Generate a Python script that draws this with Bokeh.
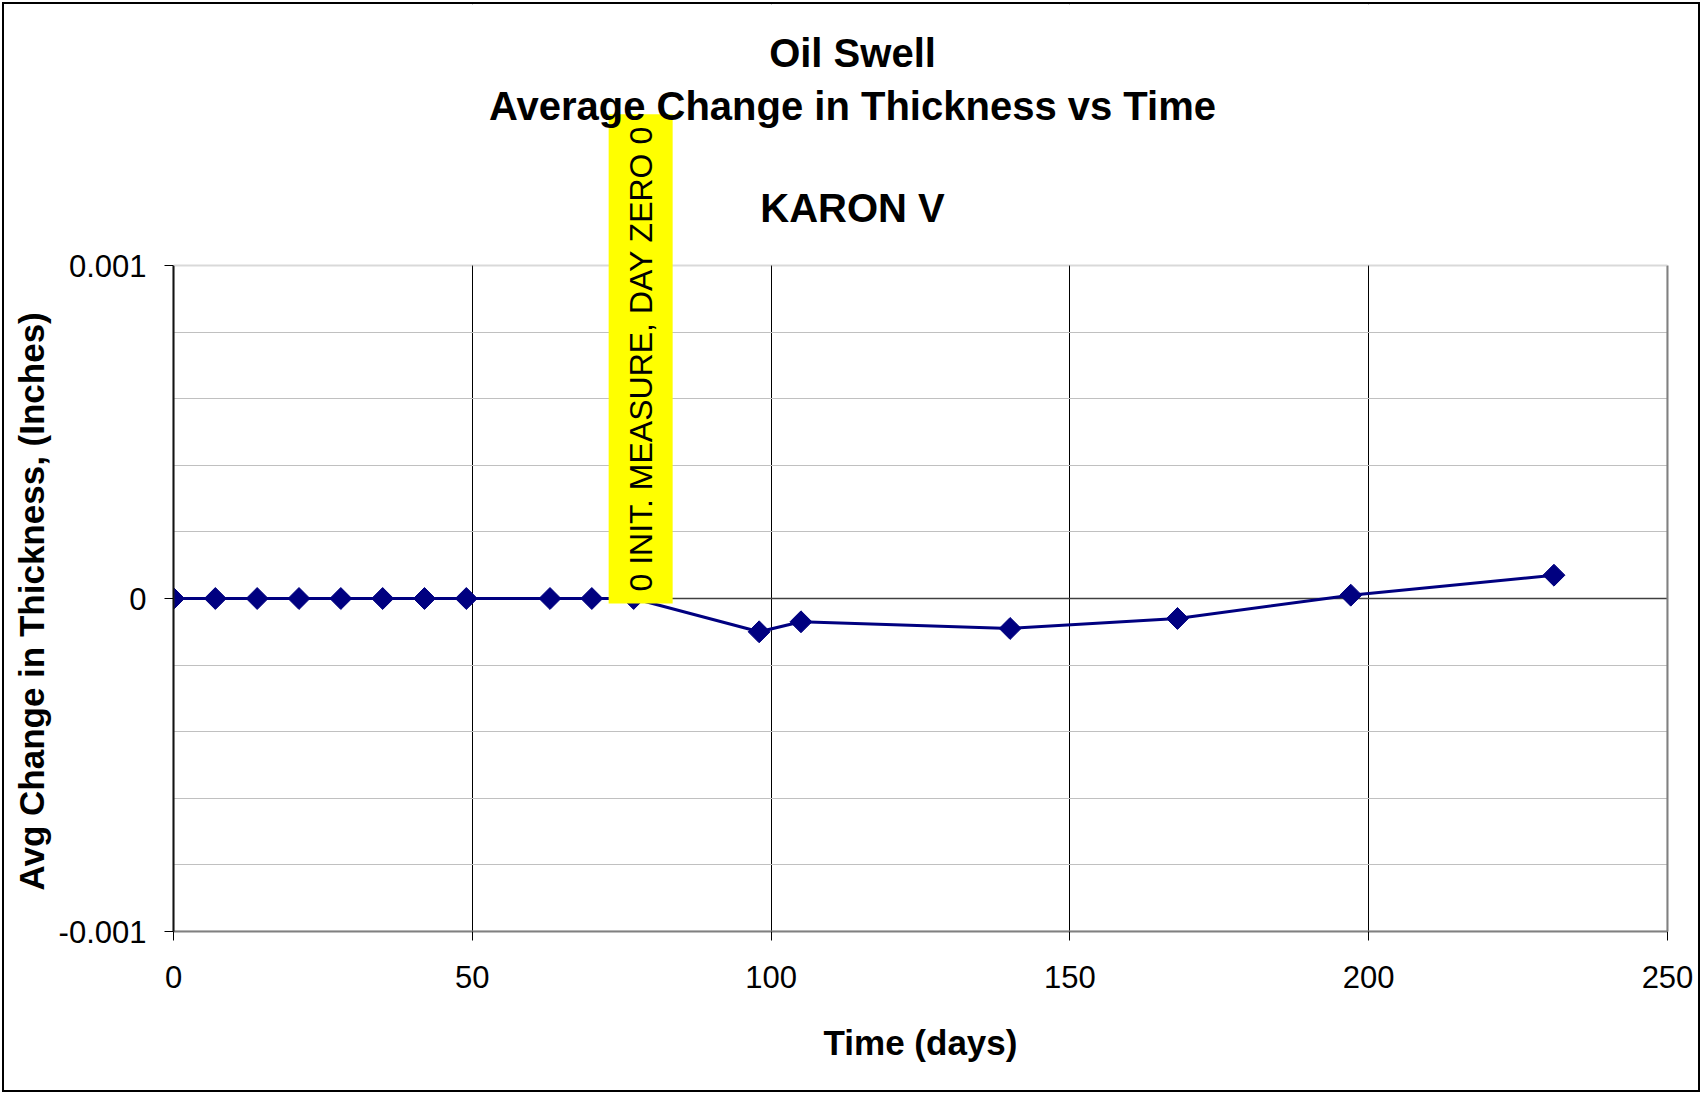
from math import pi
from bokeh.plotting import figure
from bokeh.models import (Label, Span, FixedTicker, CustomJSTickFormatter, Range1d,
                          BoxAnnotation, LinearAxis, Title)
from bokeh.embed import file_html
from bokeh.resources import INLINE

# ---- data ----
days = [0, 7, 14, 21, 28, 35, 42, 49, 63, 70, 77, 98, 105, 140, 168, 197, 231]
avg_change = [0, 0, 0, 0, 0, 0, 0, 0, 0, 0, 0,
              -0.0001, -0.00007, -0.00009, -0.00006, 0.00001, 0.00007]
x_ticks = [0, 50, 100, 150, 200, 250]
x_grid = [50, 100, 150, 200]
y_ticks = [-0.001, 0, 0.001]
y_minor = [-0.0008, -0.0006, -0.0004, -0.0002, 0.0002, 0.0004, 0.0006, 0.0008]
title_lines = ["Oil Swell", "Average Change in Thickness vs Time", "KARON V"]
x_label = "Time (days)"
y_label = "Avg Change in Thickness, (Inches)"
annotation_text = "0 INIT. MEASURE, DAY ZERO 0"
annotation_day = 77
annotation_value = 0

FONT = "Liberation Sans"
NAVY = "#000080"

# layout: plot area is 666 px tall for the -0.001..0.001 span; the frame is
# extended upward (261 px) so that titles / the data label are not clipped.
Y_MIN, Y_MAX = -0.001, 0.001
PLOT_H = 666
EXTRA_TOP = 261
y_top = Y_MAX + EXTRA_TOP * (Y_MAX - Y_MIN) / PLOT_H

p = figure(width=1694, height=1086,
           x_range=Range1d(0, 250), y_range=Range1d(Y_MIN, y_top),
           output_backend="svg", toolbar_location=None,
           min_border_left=169, min_border_right=31,
           min_border_top=0, min_border_bottom=159)
p.title = None
p.styles = {"margin": "4px", "outline": "2px solid black"}
p.background_fill_color = "white"
p.border_fill_color = "white"
p.outline_line_color = None

# axes
p.xaxis.ticker = FixedTicker(ticks=x_ticks)
p.xaxis.axis_line_color = "#808080"
p.xaxis.axis_line_width = 2
p.xaxis.major_tick_line_color = "black"
p.xaxis.major_tick_out = 9
p.xaxis.major_tick_in = 0
p.xaxis.minor_tick_line_color = None
p.xaxis.major_label_standoff = 25
p.xaxis.major_label_text_font = FONT
p.xaxis.major_label_text_font_size = "31px"
p.xaxis.major_label_text_color = "black"
p.xaxis.axis_label = x_label
p.xaxis.axis_label_text_font = FONT
p.xaxis.axis_label_text_font_style = "bold"
p.xaxis.axis_label_text_font_size = "35px"
p.xaxis.axis_label_text_color = "black"
p.xaxis.axis_label_standoff = 32

p.yaxis.ticker = FixedTicker(ticks=y_ticks, minor_ticks=y_minor)
p.yaxis.bounds = (Y_MIN, Y_MAX)
p.yaxis.formatter = CustomJSTickFormatter(code="return String(tick);")
p.yaxis.axis_line_color = "black"
p.yaxis.axis_line_width = 2
p.yaxis.major_tick_line_color = "black"
p.yaxis.major_tick_out = 9
p.yaxis.major_tick_in = 0
p.yaxis.minor_tick_line_color = None
p.yaxis.major_label_standoff = 18
p.yaxis.major_label_text_font = FONT
p.yaxis.major_label_text_font_size = "31px"
p.yaxis.major_label_text_color = "black"

# y-axis title, placed along the plot area (not the extended frame)
p.add_layout(Title(text=y_label, align="left", offset=41, standoff=10,
                   text_font=FONT, text_font_style="bold",
                   text_font_size="35px", text_color="black"), "left")

right_axis = LinearAxis(ticker=FixedTicker(ticks=[]), bounds=(Y_MIN, Y_MAX),
                        axis_line_color="#808080", axis_line_width=2,
                        major_tick_line_color=None, minor_tick_line_color=None)
p.add_layout(right_axis, "right")

# grids
p.xgrid.ticker = FixedTicker(ticks=x_grid)
p.xgrid.grid_line_color = "black"
p.xgrid.grid_line_width = 1
p.ygrid.grid_line_color = None
p.ygrid.minor_grid_line_color = "#c0c0c0"
p.ygrid.minor_grid_line_width = 1

zero = Span(location=0, dimension="width", line_color="#404040", line_width=1.5, level="underlay")
p.add_layout(zero)

# blank the area above the plot area, then draw the plot-area border
p.add_layout(BoxAnnotation(bottom=Y_MAX, fill_color="white", fill_alpha=1,
                           line_color=None))
p.add_layout(BoxAnnotation(left=0, right=250, bottom=Y_MIN, top=Y_MAX,
                           fill_alpha=0, line_color="#808080", line_width=2))

# series
p.line(days, avg_change, line_color=NAVY, line_width=3)
p.scatter(days, avg_change, marker="square", angle=pi / 4, size=15.5,
          fill_color=NAVY, line_color=NAVY)

# annotation (rotated data label)
p.add_layout(Label(x=annotation_day, y=annotation_value, text=annotation_text,
                   angle=pi / 2, x_offset=7, y_offset=-5, level="overlay",
                   text_align="left", text_baseline="middle",
                   text_font=FONT, text_font_size="32px", text_color="black",
                   background_fill_color="#ffff00", padding=(12, 14)))

# titles
title_offsets = [213, 160, 58]
for line, off in zip(title_lines, title_offsets):
    p.add_layout(Label(x=0, y=Y_MAX, x_offset=679, y_offset=off, text=line,
                       level="overlay",
                       text_align="center", text_baseline="middle",
                       text_font=FONT, text_font_style="bold",
                       text_font_size="40px", text_color="black"))

open("out.html", "w").write(file_html(p, INLINE))
